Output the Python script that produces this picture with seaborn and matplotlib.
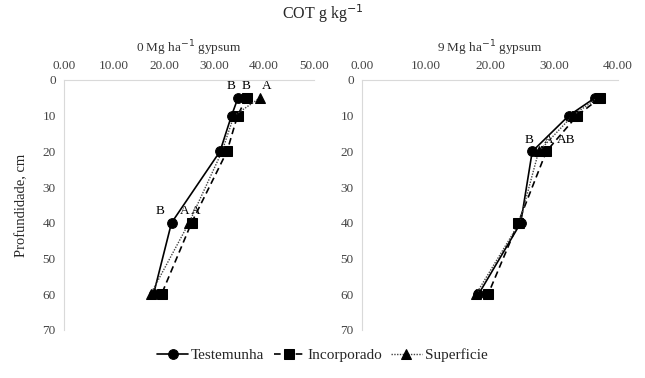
import matplotlib
matplotlib.use("Agg")
import matplotlib.pyplot as plt
import seaborn as sns
import pandas as pd

sns.set_theme(style="white")
plt.rcParams['font.family'] = ['Liberation Serif', 'DejaVu Serif']

depths = [5, 10, 20, 40, 60]
series_names = ["Testemunha", "Incorporado", "Superficie"]

# 0 Mg ha-1 gypsum
g0_testemunha = [34.8, 33.5, 31.2, 21.5, 17.9]
g0_incorporado = [36.5, 34.7, 32.6, 25.5, 19.5]
g0_superficie = [39.2, 34.0, 31.6, 25.0, 17.3]

# 9 Mg ha-1 gypsum
g9_testemunha = [36.4, 32.3, 26.6, 24.8, 18.2]
g9_incorporado = [37.2, 33.6, 28.8, 24.4, 19.7]
g9_superficie = [36.8, 32.9, 27.6, 24.6, 17.8]

panel_titles = ["0 Mg ha$^{-1}$ gypsum", "9 Mg ha$^{-1}$ gypsum"]
x_ticks_0 = [0, 10, 20, 30, 40, 50]
x_ticks_9 = [0, 10, 20, 30, 40]
y_ticks = [0, 10, 20, 30, 40, 50, 60, 70]

# significance letters: (panel, series index, depth index, text)
letters = [
    (0, 0, 0, "B"), (0, 1, 0, "B"), (0, 2, 0, "A"),
    (0, 0, 3, "B"), (0, 1, 3, "A"), (0, 2, 3, "A"),
    (1, 0, 2, "B"), (1, 1, 2, "A"), (1, 2, 2, "AB"),
]

rows = []
for panel, vals in enumerate([(g0_testemunha, g0_incorporado, g0_superficie),
                              (g9_testemunha, g9_incorporado, g9_superficie)]):
    for name, v in zip(series_names, vals):
        for d, x in zip(depths, v):
            rows.append({"panel": panel, "serie": name, "depth": d, "cot": x})
df = pd.DataFrame(rows)

styles = {
    "Testemunha": dict(marker="o", linestyle="-", color="black", markersize=7, lw=1.2),
    "Incorporado": dict(marker="s", linestyle=(0, (4, 2.5)), color="black", markersize=6.5, lw=1.2),
    "Superficie": dict(marker="^", linestyle=(0, (1, 1)), color="#444444", markersize=6.5, lw=1.0),
}

fig = plt.figure(figsize=(6.45, 3.78), dpi=100)
ax0 = fig.add_axes([64/645, 1-330/378, 250/645, 250/378])
ax1 = fig.add_axes([362/645, 1-330/378, 256/645, 250/378])
axes = [ax0, ax1]

for panel, ax in enumerate(axes):
    sub = df[df.panel == panel]
    for name in series_names:
        s = sub[sub.serie == name]
        st = styles[name]
        sns.lineplot(data=s, x="cot", y="depth", sort=False, orient="y", ax=ax,
                     color=st["color"], marker=st["marker"], markersize=st["markersize"],
                     linestyle=st["linestyle"], linewidth=st["lw"],
                     markeredgecolor="black", markerfacecolor="black", label=name,
                     legend=False, estimator=None)
    ax.set_ylim(70, 0)
    ax.set_yticks(y_ticks)
    ax.set_yticklabels([str(t) for t in y_ticks])
    ticks = x_ticks_0 if panel == 0 else x_ticks_9
    ax.set_xlim(ticks[0], ticks[-1])
    ax.set_xticks(ticks)
    ax.set_xticklabels([f"{t:.2f}" for t in ticks])
    ax.xaxis.tick_top()
    ax.xaxis.set_label_position("top")
    ax.set_xlabel(panel_titles[panel], fontsize=9.5, color="#333333", labelpad=5)
    ax.set_ylabel("")
    ax.tick_params(axis="both", length=0, labelsize=9.5, colors="#444444", pad=6)
    for sp in ["right", "bottom"]:
        ax.spines[sp].set_visible(False)
    for sp in ["top", "left"]:
        ax.spines[sp].set_color("#d9d9d9")
        ax.spines[sp].set_linewidth(0.8)

series_lookup = {
    0: [g0_testemunha, g0_incorporado, g0_superficie],
    1: [g9_testemunha, g9_incorporado, g9_superficie],
}
offsets = {
    (0, 0, 0): (-5, 4), (0, 1, 0): (0, 4), (0, 2, 0): (5, 4),
    (0, 0, 3): (-8, 4), (0, 1, 3): (-5, 4), (0, 2, 3): (5, 4),
    (1, 0, 2): (-2, 4), (1, 1, 2): (2, 4), (1, 2, 2): (20, 4),
}
for panel, si, di, txt in letters:
    x = series_lookup[panel][si][di]
    y = depths[di]
    axes[panel].annotate(txt, (x, y), xytext=offsets[(panel, si, di)],
                         textcoords="offset points", ha="center", va="bottom",
                         fontsize=9.5, color="black")

fig.text(0.5, 1-14/378, "COT g kg$^{-1}$", ha="center", va="center", fontsize=11.5)
fig.text(22/645, 1-205/378, "Profundidade, cm", rotation=90, ha="center", va="center", fontsize=10.5)

handles, labels = ax0.get_legend_handles_labels()
fig.legend(handles, labels, loc="center", bbox_to_anchor=(0.5, 1-355/378), ncol=3,
           frameon=False, fontsize=11, handlelength=2.0, columnspacing=0.6, handletextpad=0.2)

fig.savefig("out.png", dpi=100)
